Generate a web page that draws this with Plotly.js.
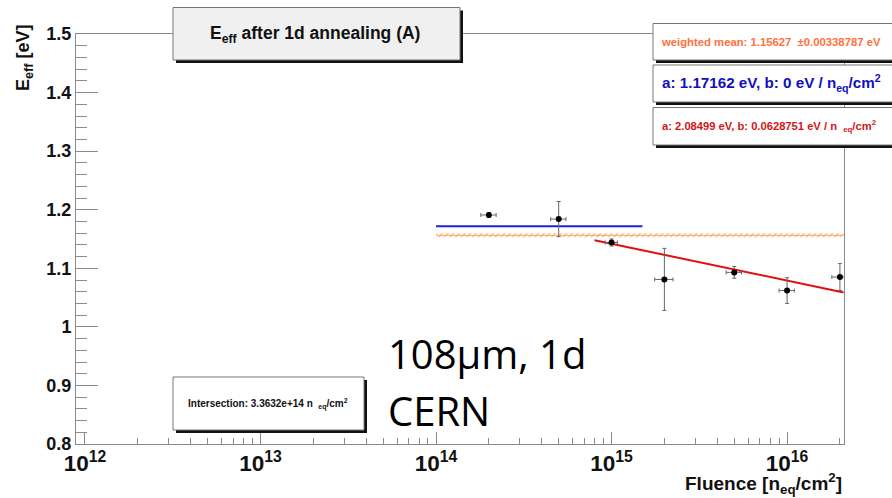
<!DOCTYPE html>
<html>
<head>
<meta charset="utf-8">
<script src="https://cdn.plot.ly/plotly-3.0.1.min.js"></script>
<style>
  html, body { margin: 0; padding: 0; background: #fff; }
  #chart { width: 892px; height: 498px; }
</style>
</head>
<body>
<div id="chart"></div>
<script>
// Effective energy after 1 day of annealing, per fluence step
const fluence    = [2e14, 5e14, 1e15, 2e15, 5e15, 1e16, 2e16];
const fluenceErr = [2e13, 5e13, 8e13, 2.4e14, 5e14, 1e15, 2e15];
const eEff       = [1.191, 1.184, 1.144, 1.081, 1.093, 1.062, 1.085];
const eEffErr    = [0.004, 0.030, 0.006, 0.053, 0.010, 0.022, 0.023];

// Fit results
const meanValue = 1.15627;
const meanError = 0.00338787;
const meanRange = [1e14, 2.1e16];

const constA = 1.17162;
const constB = 0;
const constRange = [1e14, 1.5e15];

const slopeA = 2.08499;
const slopeB = 0.0628751;
const slopeRange = [8e14, 2.1e16];

const intersection = '3.3632e+14';

// Frame geometry in pixels
const L = 76, R = 844, T = 34, B = 444;
const px = x => (x - L) / (R - L);
const py = y => (B - y) / (B - T);

const FONT = 'Liberation Sans, Arial, Helvetica, sans-serif';
const fitLine = (a, b, range) => range.map(f => a - b * Math.log10(f));

const traces = [
  // weighted mean band (lower / upper edge, hatched fill)
  {
    x: meanRange, y: meanRange.map(() => meanValue - meanError),
    mode: 'lines', line: {width: 0, color: 'rgba(0,0,0,0)'},
    hoverinfo: 'skip', showlegend: false
  },
  {
    x: meanRange, y: meanRange.map(() => meanValue + meanError),
    mode: 'lines', line: {width: 0, color: 'rgba(0,0,0,0)'},
    fill: 'tonexty', fillcolor: 'rgba(255,200,150,0.35)',
    fillpattern: {shape: '/', fgcolor: '#ffb27a', size: 4, solidity: 0.35},
    hoverinfo: 'skip', showlegend: false
  },
  {
    x: meanRange, y: meanRange.map(() => meanValue),
    mode: 'lines', line: {width: 1, color: '#ffa860'},
    showlegend: false
  },
  // constant fit
  {
    x: constRange, y: fitLine(constA, constB, constRange),
    mode: 'lines', line: {width: 2, color: '#2222dd'},
    showlegend: false
  },
  // linear-in-log fit
  {
    x: slopeRange, y: fitLine(slopeA, slopeB, slopeRange),
    mode: 'lines', line: {width: 2, color: '#e01010'},
    showlegend: false
  },
  // measurements
  {
    x: fluence, y: eEff,
    mode: 'markers',
    marker: {color: '#000', size: 6, symbol: 'circle'},
    error_x: {type: 'data', array: fluenceErr, color: '#666', thickness: 1, width: 2},
    error_y: {type: 'data', array: eEffErr, color: '#666', thickness: 1, width: 2},
    showlegend: false
  }
];

const boxes = [
  // title
  {x0: 173, x1: 460, y0: 7.5, y1: 60, fill: '#f0f0f0', line: '#777'},
  // fit info boxes
  {x0: 653, x1: 900, y0: 23.5, y1: 60, fill: '#ffffff', line: '#777'},
  {x0: 653, x1: 900, y0: 65, y1: 102, fill: '#ffffff', line: '#777'},
  {x0: 653, x1: 900, y0: 107.5, y1: 145, fill: '#ffffff', line: '#777'},
  // intersection
  {x0: 173, x1: 364, y0: 377, y1: 430, fill: '#ffffff', line: '#777'}
];

const shapes = [];
boxes.forEach(b => {
  shapes.push({
    type: 'rect', xref: 'paper', yref: 'paper', layer: 'above',
    x0: px(b.x0 + 3), x1: px(b.x1 + 3), y0: py(b.y1 + 3), y1: py(b.y0 + 3),
    fillcolor: '#111', line: {width: 0}
  });
  shapes.push({
    type: 'rect', xref: 'paper', yref: 'paper', layer: 'above',
    x0: px(b.x0), x1: px(b.x1), y0: py(b.y1), y1: py(b.y0),
    fillcolor: b.fill, line: {width: 1, color: b.line}
  });
});

const bold = (size, color) => ({family: FONT, size: size, color: color, weight: 700});

const annotations = [
  {
    text: 'E<sub>eff</sub> after 1d annealing (A)',
    xref: 'paper', yref: 'paper', x: px(315), y: py(34),
    xanchor: 'center', yanchor: 'middle', showarrow: false,
    font: bold(17.5, '#111')
  },
  {
    text: 'weighted mean: ' + meanValue + '&nbsp;&nbsp;\u00b1' + meanError + ' eV',
    xref: 'paper', yref: 'paper', x: px(659), y: py(41.5),
    xanchor: 'left', yanchor: 'middle', showarrow: false,
    font: bold(11.3, '#ff7040')
  },
  {
    text: 'a: ' + constA + ' eV, b: ' + constB + ' eV / n<sub>eq</sub>/cm<sup>2</sup>',
    xref: 'paper', yref: 'paper', x: px(660), y: py(83),
    xanchor: 'left', yanchor: 'middle', showarrow: false,
    font: bold(15.2, '#1010c0')
  },
  {
    text: 'a: ' + slopeA + ' eV, b: ' + slopeB + ' eV / n&nbsp;&nbsp;<sub>eq</sub>/cm<sup>2</sup>',
    xref: 'paper', yref: 'paper', x: px(660), y: py(126),
    xanchor: 'left', yanchor: 'middle', showarrow: false,
    font: bold(11.2, '#d41515')
  },
  {
    text: 'Intersection: ' + intersection + ' n&nbsp;&nbsp;<sub>eq</sub>/cm<sup>2</sup>',
    xref: 'paper', yref: 'paper', x: px(268), y: py(404),
    xanchor: 'center', yanchor: 'middle', showarrow: false,
    font: bold(10, '#111')
  },
  {
    text: '108\u00b5m, 1d',
    xref: 'paper', yref: 'paper', x: px(386), y: py(353),
    xanchor: 'left', yanchor: 'middle', showarrow: false,
    font: {family: 'Open Sans, sans-serif', size: 40, color: '#000'}
  },
  {
    text: 'CERN',
    xref: 'paper', yref: 'paper', x: px(386), y: py(410),
    xanchor: 'left', yanchor: 'middle', showarrow: false,
    font: {family: 'Open Sans, sans-serif', size: 40, color: '#000'}
  },
  // axis titles
  {
    text: 'E<sub>eff</sub> [eV]',
    xref: 'paper', yref: 'paper', x: px(25), y: py(23),
    xanchor: 'center', yanchor: 'top', textangle: -90, showarrow: false,
    font: bold(18, '#111')
  },
  {
    text: 'Fluence [n<sub>eq</sub>/cm<sup>2</sup>]',
    xref: 'paper', yref: 'paper', x: 1, y: py(483),
    xanchor: 'right', yanchor: 'middle', showarrow: false,
    font: bold(19, '#111')
  }
];

const axisCommon = {
  showgrid: false, zeroline: false,
  showline: true, linecolor: '#8a8a8a', linewidth: 1, mirror: true,
  ticks: 'inside', tickcolor: '#8a8a8a', tickwidth: 1,
  tickfont: bold(18, '#111')
};

const layout = {
  width: 892, height: 498,
  margin: {l: L, r: 892 - R, t: T, b: 498 - B, pad: 0},
  paper_bgcolor: '#fff', plot_bgcolor: '#fff',
  showlegend: false,
  xaxis: Object.assign({}, axisCommon, {
    type: 'log', range: [11.949, 16.3243],
    dtick: 1, exponentformat: 'power', ticklen: 12,
    minor: {ticks: 'inside', ticklen: 6, tickcolor: '#8a8a8a', dtick: 'D1', showgrid: false}
  }),
  yaxis: Object.assign({}, axisCommon, {
    range: [0.8, 1.5], dtick: 0.1, ticklen: 22,
    minor: {ticks: 'inside', ticklen: 11, tickcolor: '#8a8a8a', dtick: 0.02, showgrid: false}
  }),
  shapes: shapes,
  annotations: annotations
};

Plotly.newPlot('chart', traces, layout, {staticPlot: true, displayModeBar: false});
</script>
</body>
</html>
